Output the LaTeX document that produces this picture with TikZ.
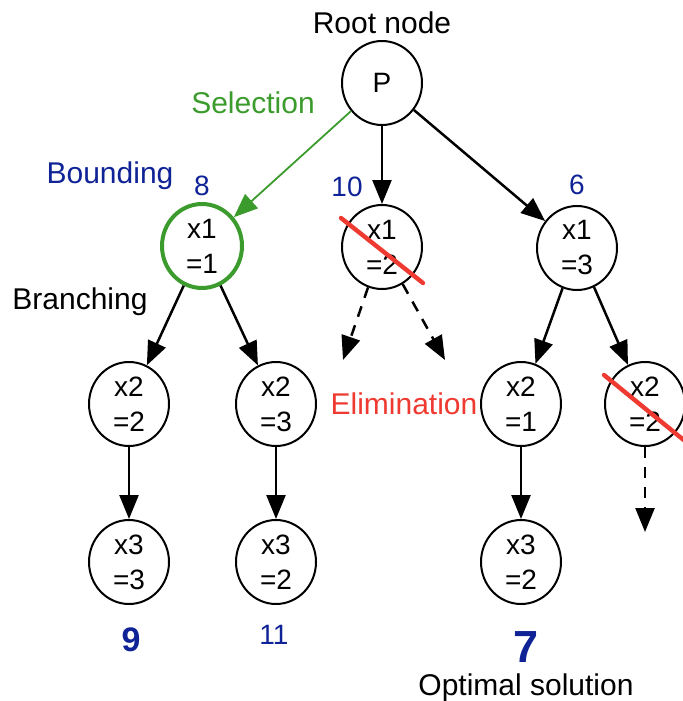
\documentclass[tikz,border=0pt]{standalone}
\usepackage{fontspec}
\setmainfont{Liberation Sans}
\usetikzlibrary{arrows.meta, shapes.geometric, calc, positioning}
\definecolor{selGreen}{RGB}{60,155,45}
\definecolor{boundBlue}{RGB}{15,35,150}
\definecolor{elimRed}{RGB}{238,58,48}
\tikzset{
    bbNode/.style={ellipse, draw, fill=white, line width=1pt, inner sep=0pt, minimum width=40pt, minimum height=42pt, align=center, font=\fontsize{14}{17.5}\selectfont},
    bbSel/.style={bbNode, draw=selGreen, line width=2pt},
    bbEdge/.style={-{Triangle[length=12pt, width=9.5pt]}, line width=1.25pt},
    bbSelEdge/.style={bbEdge, draw=selGreen, line width=0.9pt},
    bbDash/.style={bbEdge, dash pattern=on 5.5pt off 4.5pt},
    bbCut/.style={draw=elimRed, line width=2.2pt, line cap=round},
    stepLbl/.style={font=\fontsize{15}{18}\selectfont},
    boundLbl/.style={text=boundBlue, font=\fontsize{14}{16}\selectfont},
}
\newcommand{\drawBranch}[3][bbEdge]{
    \draw[#1] (#2) -- (#3);
}
\newcommand{\drawCut}[3]{
    % red stroke across an eliminated node
    \draw[bbCut] ($(#1)+(#2)$) -- ($(#1)+(#3)$);
}

\begin{document}
\begin{tikzpicture}[x=0.5pt, y=-0.5pt]
    \useasboundingbox (0,0) rectangle (683,701);

    % tree nodes
    \node[bbNode] (P) at (382,83) {P};
    \node[bbSel]  (A) at (202,246) {x1\\=1};
    \node[bbNode] (B) at (382,247) {x1\\=2};
    \node[bbNode] (C) at (577,248) {x1\\=3};
    \node[bbNode] (D) at (129,404) {x2\\=2};
    \node[bbNode] (E) at (276,404) {x2\\=3};
    \node[bbNode] (F) at (521,404) {x2\\=1};
    \node[bbNode] (G) at (645,404) {x2\\=2};
    \node[bbNode] (H) at (129,562) {x3\\=3};
    \node[bbNode] (I) at (276,562) {x3\\=2};
    \node[bbNode] (J) at (521,562) {x3\\=2};

    % open ends of pruned branches
    \coordinate (bL) at (343,360);
    \coordinate (bR) at (445,360);
    \coordinate (gD) at (645,532);

    \drawBranch[bbSelEdge]{P}{A}
    \drawBranch{P}{B}
    \drawBranch{P}{C}
    \drawBranch{A}{D}
    \drawBranch{A}{E}
    \drawBranch[bbDash]{B}{bL}
    \drawBranch[bbDash]{B}{bR}
    \drawBranch{C}{F}
    \drawBranch{C}{G}
    \drawBranch{D}{H}
    \drawBranch{E}{I}
    \drawBranch{F}{J}
    \drawBranch[bbDash]{G}{gD}

    \drawCut{B}{-41,-29}{41,36}
    \drawCut{G}{-41,-29}{46,42}

    % bounds
    \node[boundLbl] (vA) at (202,186) {8};
    \node[boundLbl] (vB) at (347,187) {10};
    \node[boundLbl] (vC) at (577,185) {6};
    \node[boundLbl, font=\fontsize{17}{20}\selectfont\bfseries] (vH) at (131,640) {9};
    \node[boundLbl, font=\fontsize{14}{17}\selectfont] (vI) at (274,635) {11};
    \node[boundLbl, font=\fontsize{22.5}{26}\selectfont\bfseries] (vJ) at (526,647) {7};

    % step names
    \node[stepLbl] (root) at (382,23) {Root node};
    \node[stepLbl, text=selGreen] (sel) at (253,103) {Selection};
    \node[stepLbl, text=boundBlue] (bnd) at (110,176) {Bounding};
    \node[stepLbl] (brn) at (80,302) {Branching};
    \node[stepLbl, text=elimRed] (elim) at (404,404) {Elimination};
    \node[stepLbl] (opt) at (526,688) {Optimal solution};

\end{tikzpicture}
\end{document}
